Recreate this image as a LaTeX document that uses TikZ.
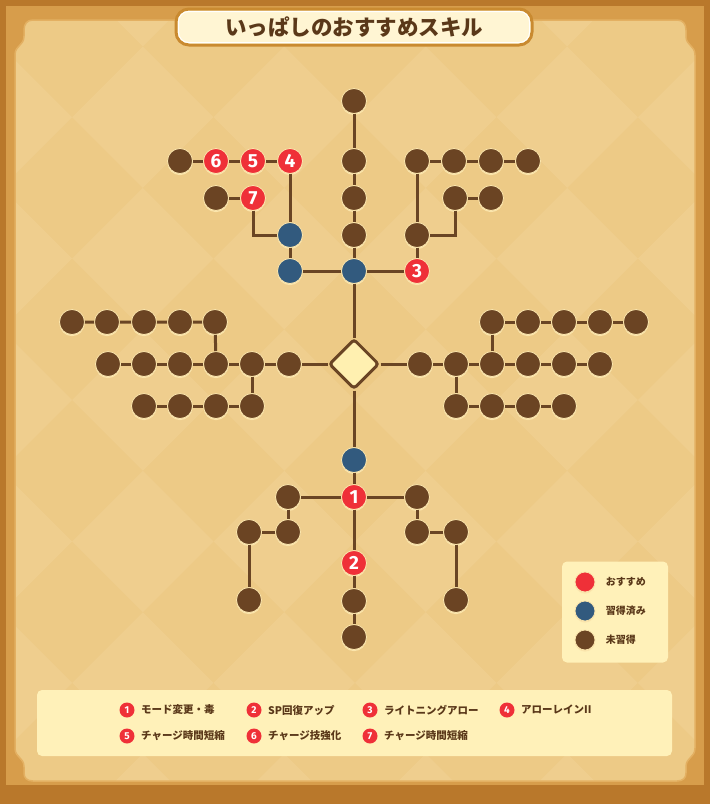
\documentclass[tikz,border=0pt]{standalone}
\usepackage{fontspec}
\setmainfont{Fira Sans}
\newfontfamily\jpfont{Noto Sans CJK JP}
\usetikzlibrary{shapes.geometric,shadows,positioning}

\definecolor{framedark}{HTML}{B9782B}
\definecolor{framemid}{HTML}{D79D4B}
\definecolor{panelc}{HTML}{EDCA86}
\definecolor{tilec}{HTML}{EFCE8E}
\definecolor{paneledge}{HTML}{E3B062}
\definecolor{boxc}{HTML}{FFF1B9}
\definecolor{brownc}{HTML}{6B4423}
\definecolor{bluec}{HTML}{325A7E}
\definecolor{redc}{HTML}{EF3038}
\definecolor{rimc}{HTML}{FBE5AC}
\definecolor{linec}{HTML}{6A4524}
\definecolor{textc}{HTML}{5A3819}
\definecolor{titleedge}{HTML}{C98A30}
\definecolor{titlefill}{HTML}{FFF5D3}
\definecolor{diamondc}{HTML}{FFF0B0}

\tikzset{
  skill/.style={circle, inner sep=0pt, minimum size=25pt, draw=rimc, line width=0.8pt,
    drop shadow={shadow xshift=0pt, shadow yshift=-1.6pt, fill=rimc, opacity=1}},
  unlearned/.style={skill, fill=brownc},
  learned/.style={skill, fill=bluec},
  pick/.style={skill, fill=redc, text=white, font=\bfseries\fontsize{19}{19}\selectfont},
  tag/.style={circle, inner sep=0pt, minimum size=15pt, fill=redc, text=white,
    font=\bfseries\fontsize{10}{10}\selectfont},
  tagtext/.style={right=3pt of #1, text=textc, font=\jpfont\bfseries\fontsize{10.5}{10.5}\selectfont},
  keytext/.style={right=7pt of #1, text=textc, font=\jpfont\bfseries\fontsize{10}{10}\selectfont},
  link/.style={draw=linec, line width=3pt},
}

\begin{document}
\begin{tikzpicture}[x=1pt,y=-1pt]
\useasboundingbox (0,0) rectangle (710,804);

% frame
\fill[framedark] (0,0) rectangle (710,804);
\fill[framemid] (6,6) rectangle (704,785);
\def\panelpath{(15,55) .. controls (15,45) and (24,46) .. (24,36) -- (24,30) .. controls (24,24) and (27,20) .. (33,20)
  -- (677,20) .. controls (683,20) and (686,24) .. (686,30) -- (686,36) .. controls (686,46) and (695,45) .. (695,55)
  -- (695,748) .. controls (695,758) and (686,757) .. (686,767) -- (686,773) .. controls (686,778) and (683,781) .. (677,781)
  -- (33,781) .. controls (27,781) and (24,778) .. (24,773) -- (24,767) .. controls (24,757) and (15,758) .. (15,748) -- cycle}
\fill[panelc] \panelpath;
\begin{scope}
  \clip \panelpath;
  \begin{scope}[rotate around={45:(355,400)}]
    \foreach \i in {-6,...,5}
      \foreach \j in {-6,...,5} {
        \pgfmathtruncatemacro\tileodd{mod(\i+\j+20,2)}
        \ifnum\tileodd=0 \fill[tilec] (355+\i*100,400+\j*100) rectangle ++(100,100); \fi
      }
  \end{scope}
\end{scope}
\draw[paneledge, line width=1.5pt] \panelpath;

% title
\node[draw=titleedge, line width=3pt, fill=titlefill, rounded corners=13pt, minimum width=356pt,
  minimum height=36pt, text=textc, font=\jpfont\bfseries\fontsize{21.5}{21.5}\selectfont] (title) at (354,27) {いっぱしのおすすめスキル};
\draw[white, line width=1pt, rounded corners=10pt] ([shift={(4,4)}]title.north west) rectangle ([shift={(-4,-4)}]title.south east);

% upper branch
\node[unlearned] (t1) at (354,101) {};
\node[unlearned] (t2) at (354,161) {};
\node[unlearned] (t3) at (354,198) {};
\node[unlearned] (t4) at (354,235) {};
\node[learned] (tb) at (354,271) {};
\node[learned] (lb1) at (290,235) {};
\node[learned] (lb2) at (290,271) {};
\node[pick] (r4) at (290,161) {4};
\node[pick] (r5) at (253,161) {5};
\node[pick] (r6) at (216,161) {6};
\node[unlearned] (l1) at (180,161) {};
\node[pick] (r7) at (253,198) {7};
\node[unlearned] (l2) at (216,198) {};
\node[pick] (r3) at (417,271) {3};
\node[unlearned] (ra) at (417,235) {};
\node[unlearned] (rb1) at (417,161) {};
\node[unlearned] (rb2) at (454,161) {};
\node[unlearned] (rb3) at (491,161) {};
\node[unlearned] (rb4) at (528,161) {};
\node[unlearned] (rc1) at (455,198) {};
\node[unlearned] (rc2) at (491,198) {};

\draw[link] (t1) -- (t2) -- (t3) -- (t4) -- (tb);
\draw[link] (tb) -- (lb2) -- (lb1) -- (r4) -- (r5) -- (r6) -- (l1);
\draw[link] (r7) -- (l2);
\draw[link] (r7) |- (lb1);
\draw[link] (tb) -- (r3) -- (ra) -- (rb1) -- (rb2) -- (rb3) -- (rb4);
\draw[link] (ra) -| (rc1);
\draw[link] (rc1) -- (rc2);

% centre
\node[diamond, draw=linec, line width=3pt, fill=diamondc, minimum size=50pt, inner sep=0pt, rounded corners=3pt,
  drop shadow={shadow xshift=0pt, shadow yshift=-1.6pt, fill=rimc, opacity=1}] (root) at (354,364) {};

% left wing
\node[unlearned] (ml1) at (289,364) {};
\node[unlearned] (ml2) at (252,364) {};
\node[unlearned] (ml3) at (216,364) {};
\node[unlearned] (ml4) at (180,364) {};
\node[unlearned] (ml5) at (144,364) {};
\node[unlearned] (ml6) at (108,364) {};
\node[unlearned] (ul1) at (215,322) {};
\node[unlearned] (ul2) at (180,322) {};
\node[unlearned] (ul3) at (144,322) {};
\node[unlearned] (ul4) at (107,322) {};
\node[unlearned] (ul5) at (72,322) {};
\node[unlearned] (dl1) at (252,406) {};
\node[unlearned] (dl2) at (216,406) {};
\node[unlearned] (dl3) at (180,406) {};
\node[unlearned] (dl4) at (144,406) {};

\draw[link] (root) -- (ml1) -- (ml2) -- (ml3) -- (ml4) -- (ml5) -- (ml6);
\draw[link] (ml3) -- (ul1) -- (ul2) -- (ul3) -- (ul4) -- (ul5);
\draw[link] (ml2) -- (dl1) -- (dl2) -- (dl3) -- (dl4);

% right wing
\node[unlearned] (mr1) at (420,364) {};
\node[unlearned] (mr2) at (456,364) {};
\node[unlearned] (mr3) at (492,364) {};
\node[unlearned] (mr4) at (528,364) {};
\node[unlearned] (mr5) at (564,364) {};
\node[unlearned] (mr6) at (600,364) {};
\node[unlearned] (ur1) at (492,322) {};
\node[unlearned] (ur2) at (528,322) {};
\node[unlearned] (ur3) at (564,322) {};
\node[unlearned] (ur4) at (600,322) {};
\node[unlearned] (ur5) at (636,322) {};
\node[unlearned] (dr1) at (456,406) {};
\node[unlearned] (dr2) at (492,406) {};
\node[unlearned] (dr3) at (528,406) {};
\node[unlearned] (dr4) at (564,406) {};

\draw[link] (root) -- (mr1) -- (mr2) -- (mr3) -- (mr4) -- (mr5) -- (mr6);
\draw[link] (mr3) -- (ur1) -- (ur2) -- (ur3) -- (ur4) -- (ur5);
\draw[link] (mr2) -- (dr1) -- (dr2) -- (dr3) -- (dr4);

% lower branch
\node[learned] (bb) at (354,460) {};
\node[pick] (r1) at (354,497) {1};
\node[pick] (r2) at (354,563) {2};
\node[unlearned] (b1) at (354,601) {};
\node[unlearned] (b2) at (354,637) {};
\node[unlearned] (bl1) at (288,497) {};
\node[unlearned] (bl2) at (288,532) {};
\node[unlearned] (bl3) at (249,532) {};
\node[unlearned] (bl4) at (249,600) {};
\node[unlearned] (br1) at (417,497) {};
\node[unlearned] (br2) at (417,532) {};
\node[unlearned] (br3) at (456,532) {};
\node[unlearned] (br4) at (456,600) {};

\draw[link] (tb) -- (root) -- (bb) -- (r1) -- (r2) -- (b1) -- (b2);
\draw[link] (r1) -- (bl1) -- (bl2) -- (bl3) -- (bl4);
\draw[link] (r1) -- (br1) -- (br2) -- (br3) -- (br4);

% key
\node[fill=boxc, rounded corners=5pt, minimum width=106pt, minimum height=101pt] (keybox) at (615,612) {};
\node[skill, fill=redc, minimum size=20pt] (keypick) at (585,582) {};
\node[skill, fill=bluec, minimum size=20pt] (keylearned) at (585,611) {};
\node[skill, fill=brownc, minimum size=20pt] (keyunlearned) at (585,640) {};
\node[keytext=keypick] {おすすめ};
\node[keytext=keylearned] {習得済み};
\node[keytext=keyunlearned] {未習得};

% names
\node[fill=boxc, rounded corners=5pt, minimum width=635pt, minimum height=66pt] (namebox) at (354.5,723) {};
\node[tag] (n1) at (127,710) {1};
\node[tag] (n2) at (254,710) {2};
\node[tag] (n3) at (370,710) {3};
\node[tag] (n4) at (507,710) {4};
\node[tag] (n5) at (127,736) {5};
\node[tag] (n6) at (254,736) {6};
\node[tag] (n7) at (370,736) {7};
\node[tagtext=n1] {モード変更・毒};
\node[tagtext=n2] {SP回復アップ};
\node[tagtext=n3] {ライトニングアロー};
\node[tagtext=n4] {アローレインII};
\node[tagtext=n5] {チャージ時間短縮};
\node[tagtext=n6] {チャージ技強化};
\node[tagtext=n7] {チャージ時間短縮};
\end{tikzpicture}
\end{document}
